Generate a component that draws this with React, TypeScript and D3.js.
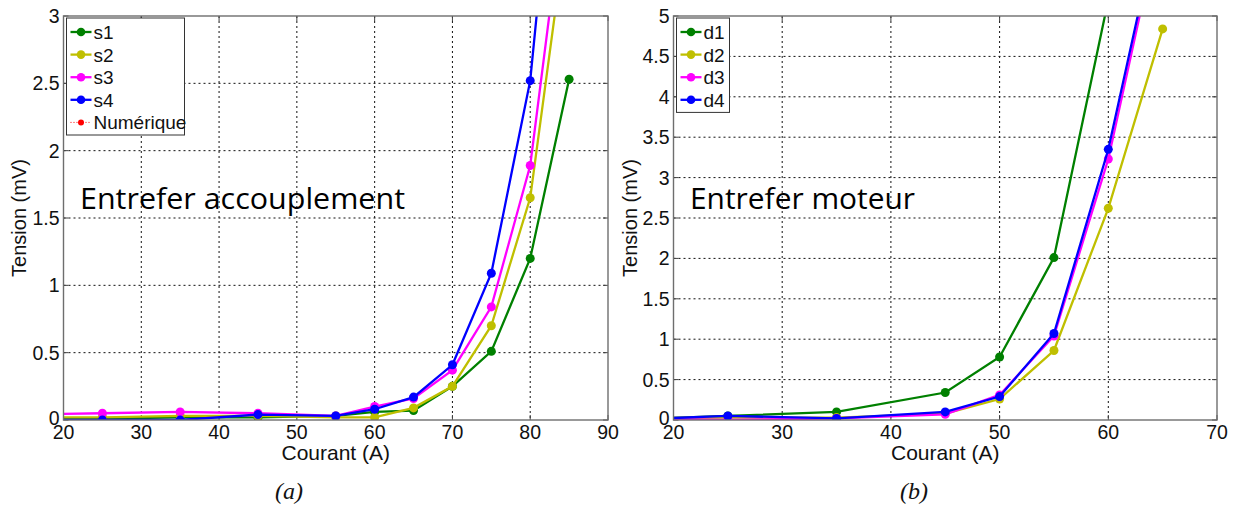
import React from "react";
import * as d3 from "d3";

// ---------- data ----------
const leftX = [15, 25, 35, 45, 55, 60, 65, 70, 75, 80, 85];
const s1 = [0.01, 0.01, 0.02, 0.02, 0.03, 0.06, 0.07, 0.25, 0.51, 1.2, 2.53];
const s2 = [0.02, 0.02, 0.03, 0.03, 0.02, 0.02, 0.09, 0.25, 0.7, 1.65, 3.8];
const s3 = [0.04, 0.05, 0.06, 0.05, 0.03, 0.1, 0.16, 0.37, 0.84, 1.89, 4.16];
const s4 = [0.0, 0.0, 0.0, 0.04, 0.03, 0.08, 0.17, 0.41, 1.09, 2.52, 5.45];

const rightX = [15, 25, 35, 45, 50, 55, 60, 65];
const d1 = [0.0, 0.05, 0.1, 0.34, 0.78, 2.01, 5.2];
const d2 = [0.02, 0.03, 0.03, 0.08, 0.26, 0.86, 2.62, 4.84];
const d3v = [0.02, 0.0, 0.02, 0.07, 0.31, 1.04, 3.23, 6.3];
const d4 = [0.0, 0.05, 0.02, 0.1, 0.29, 1.07, 3.35, 6.4];

const leftNames = ["s1", "s2", "s3", "s4"];
const rightNames = ["d1", "d2", "d3", "d4"];
const seriesColors = ["#008000", "#bfbf00", "#ff00ff", "#0000ff"];

const leftXTicks = [20, 30, 40, 50, 60, 70, 80, 90];
const leftYTicks = [0, 0.5, 1, 1.5, 2, 2.5, 3];
const rightXTicks = [20, 30, 40, 50, 60, 70];
const rightYTicks = [0, 0.5, 1, 1.5, 2, 2.5, 3, 3.5, 4, 4.5, 5];

const xLabel = "Courant (A)";
const yLabel = "Tension (mV)";

// ---------- component ----------
type PanelProps = {
  id: string;
  left: number;
  right: number;
  xDomain: [number, number];
  yDomain: [number, number];
  xTicks: number[];
  yTicks: number[];
  xs: number[];
  series: number[][];
  names: string[];
  legendWidth: number;
  withNumerique: boolean;
  title: string;
  titleX: number;
  titleLen: number;
  yLabelX: number;
  caption: string;
  captionX: number;
};

const TOP = 16;
const BOTTOM = 420;
const tickFont = "'Liberation Sans', Arial, sans-serif";
const TICK_FS = 19.5;

function Panel(p: PanelProps) {
  const x = d3.scaleLinear().domain(p.xDomain).range([p.left, p.right]);
  const y = d3.scaleLinear().domain(p.yDomain).range([BOTTOM, TOP]);
  const tl = 5;
  const clipId = "clip-" + p.id;
  const fmt = (v: number) => String(v);
  const legendTop = 18;
  const rowH = 22.6;
  const nRows = p.names.length + (p.withNumerique ? 1 : 0);
  const lx = p.left + 3;
  return (
    <g>
      <defs>
        <clipPath id={clipId}>
          <rect x={p.left} y={TOP} width={p.right - p.left} height={BOTTOM - TOP} />
        </clipPath>
      </defs>
      <rect x={p.left} y={TOP} width={p.right - p.left} height={BOTTOM - TOP} fill="#fff" />
      {/* grid */}
      {p.xTicks.slice(1, -1).map((t) => (
        <line key={"gx" + t} x1={x(t)} x2={x(t)} y1={TOP} y2={BOTTOM} stroke="#111" strokeWidth={1} strokeDasharray="2,3" />
      ))}
      {p.yTicks.slice(1, -1).map((t) => (
        <line key={"gy" + t} x1={p.left} x2={p.right} y1={y(t)} y2={y(t)} stroke="#111" strokeWidth={1} strokeDasharray="2,3" />
      ))}
      {/* ticks */}
      {p.xTicks.map((t) => (
        <g key={"tx" + t}>
          <line x1={x(t)} x2={x(t)} y1={BOTTOM} y2={BOTTOM - tl} stroke="#404040" />
          <line x1={x(t)} x2={x(t)} y1={TOP} y2={TOP + tl} stroke="#404040" />
          <text x={x(t)} y={439} textAnchor="middle" fontFamily={tickFont} fontSize={TICK_FS} fill="#111">
            {fmt(t)}
          </text>
        </g>
      ))}
      {p.yTicks.map((t) => (
        <g key={"ty" + t}>
          <line x1={p.left} x2={p.left + tl} y1={y(t)} y2={y(t)} stroke="#404040" />
          <line x1={p.right} x2={p.right - tl} y1={y(t)} y2={y(t)} stroke="#404040" />
          <text x={p.left - 4} y={y(t) + (t === 0 ? 5 : 7)} textAnchor="end" fontFamily={tickFont} fontSize={TICK_FS} fill="#111">
            {fmt(t)}
          </text>
        </g>
      ))}
      {/* series */}
      <g clipPath={`url(#${clipId})`}>
        {p.series.map((vals, i) => {
          const pts = vals.map((v, j) => [p.xs[j], v] as [number, number]);
          const line = d3
            .line<[number, number]>()
            .x((d) => x(d[0]))
            .y((d) => y(d[1]));
          return (
            <g key={"s" + i}>
              <path d={line(pts) || ""} fill="none" stroke={seriesColors[i]} strokeWidth={2.3} />
              {pts.map((d, j) => (
                <circle key={j} cx={x(d[0])} cy={y(d[1])} r={4.5} fill={seriesColors[i]} />
              ))}
            </g>
          );
        })}
      </g>
      {/* frame */}
      <rect x={p.left} y={TOP} width={p.right - p.left} height={BOTTOM - TOP} fill="none" stroke="#6e6e6e" strokeWidth={1.4} />
      {/* legend */}
      <rect x={lx} y={legendTop} width={p.legendWidth} height={nRows * rowH + 4} fill="#fff" stroke="#333" strokeWidth={1} />
      {p.names.map((n, i) => {
        const cy = legendTop + 14 + i * rowH;
        return (
          <g key={"lg" + n}>
            <line x1={lx + 4} x2={lx + 25} y1={cy} y2={cy} stroke={seriesColors[i]} strokeWidth={2.3} />
            <circle cx={lx + 14.5} cy={cy} r={4.3} fill={seriesColors[i]} />
            <text x={lx + 27} y={cy + 7} fontFamily={tickFont} fontSize={19} fill="#111">
              {n}
            </text>
          </g>
        );
      })}
      {p.withNumerique && (
        <g>
          <line
            x1={lx + 4}
            x2={lx + 25}
            y1={legendTop + 14 + 4 * rowH}
            y2={legendTop + 14 + 4 * rowH}
            stroke="#ff0000"
            strokeWidth={1}
            strokeDasharray="1,2"
          />
          <circle cx={lx + 14.5} cy={legendTop + 14 + 4 * rowH} r={3} fill="#ff0000" />
          <text x={lx + 27} y={legendTop + 14 + 4 * rowH + 7} fontFamily={tickFont} fontSize={19} fill="#111">
            Numérique
          </text>
        </g>
      )}
      {/* annotation */}
      <text x={p.titleX} y={209} fontFamily="'Open Sans', sans-serif" fontSize={29} fill="#000" textLength={p.titleLen} lengthAdjust="spacingAndGlyphs">
        {p.title}
      </text>
      {/* axis labels */}
      <text x={(p.left + p.right) / 2} y={460} textAnchor="middle" fontFamily={tickFont} fontSize={21} fill="#111">
        {xLabel}
      </text>
      <text
        transform={`translate(${p.yLabelX},${(TOP + BOTTOM) / 2}) rotate(-90)`}
        textAnchor="middle"
        fontFamily={tickFont}
        fontSize={20}
        fill="#111"
      >
        {yLabel}
      </text>
      <text x={p.captionX} y={499} textAnchor="middle" fontFamily="'Liberation Serif', 'Times New Roman', serif" fontStyle="italic" fontSize={24} fill="#111">
        {p.caption}
      </text>
    </g>
  );
}

export default function App() {
  return (
    <svg width={1240} height={509} style={{ position: "absolute", left: 0, top: 0, background: "#fff" }}>
      <rect width={1240} height={509} fill="#fff" />
      <Panel
        id="a"
        left={63.5}
        right={608}
        xDomain={[20, 90]}
        yDomain={[0, 3]}
        xTicks={leftXTicks}
        yTicks={leftYTicks}
        xs={leftX}
        series={[s1, s2, s3, s4]}
        names={leftNames}
        legendWidth={118}
        withNumerique={true}
        title="Entrefer accouplement"
        titleX={80}
        titleLen={325}
        yLabelX={26}
        caption="(a)"
        captionX={289}
      />
      <Panel
        id="b"
        left={673.5}
        right={1217}
        xDomain={[20, 70]}
        yDomain={[0, 5]}
        xTicks={rightXTicks}
        yTicks={rightYTicks}
        xs={rightX}
        series={[d1, d2, d3v, d4]}
        names={rightNames}
        legendWidth={53}
        withNumerique={false}
        title="Entrefer moteur"
        titleX={690}
        titleLen={225}
        yLabelX={637}
        caption="(b)"
        captionX={914}
      />
    </svg>
  );
}
